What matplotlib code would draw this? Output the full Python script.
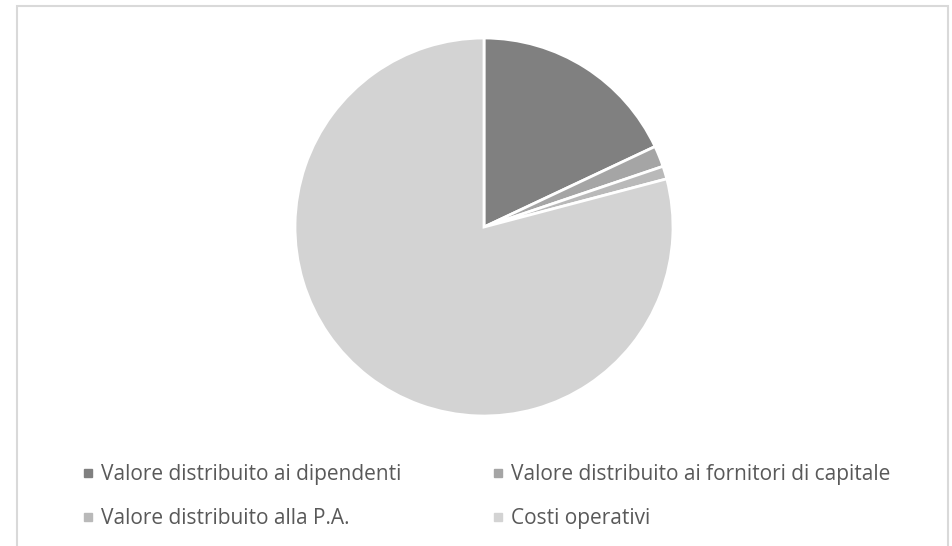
import matplotlib
matplotlib.use("Agg")
import matplotlib.pyplot as plt
from matplotlib.lines import Line2D
from matplotlib.patches import Rectangle

labels = ["Valore distribuito ai dipendenti",
          "Valore distribuito ai fornitori di capitale",
          "Valore distribuito alla P.A.",
          "Costi operativi"]
values = [18.0, 1.8, 1.1, 79.1]
colors = ["#808080", "#a5a5a5", "#b9b9b9", "#d3d3d3"]

W, H = 952, 546
fig = plt.figure(figsize=(W / 100, H / 100), dpi=100)
plt.rcParams['font.family'] = ['Open Sans', 'DejaVu Sans']

# chart border (open at the bottom, as in the crop)
fig.patches.append(Rectangle((17 / W, -0.05), 931 / W, 1.05 - 6 / H,
                             transform=fig.transFigure, fill=False,
                             edgecolor="#d9d9d9", linewidth=1.5))

cx, cy, r = 484, 227, 189
ax = fig.add_axes([(cx - r) / W, (H - cy - r) / H, 2 * r / W, 2 * r / H])
ax.pie(values, colors=colors, startangle=90, counterclock=False, radius=1,
       wedgeprops=dict(edgecolor="white", linewidth=2))
ax.set_xlim(-1, 1)
ax.set_ylim(-1, 1)
ax.set_aspect("equal")
ax.axis("off")

handles = [Line2D([], [], linestyle="none", marker="s", markersize=5.5,
                  markerfacecolor=c, markeredgecolor=c) for c in colors]
# legend reads row by row in the reference, matplotlib fills by column
order = [0, 2, 1, 3]
fig.legend([handles[i] for i in order], [labels[i] for i in order],
           ncol=2, loc="upper left",
           bbox_to_anchor=(81 / W, 1 - 464 / H), frameon=False,
           fontsize=15, labelcolor="#595959", handlelength=0.7,
           handletextpad=0.25, borderpad=0, borderaxespad=0,
           labelspacing=1.1, columnspacing=4.3)

fig.savefig("out.png", dpi=100)
